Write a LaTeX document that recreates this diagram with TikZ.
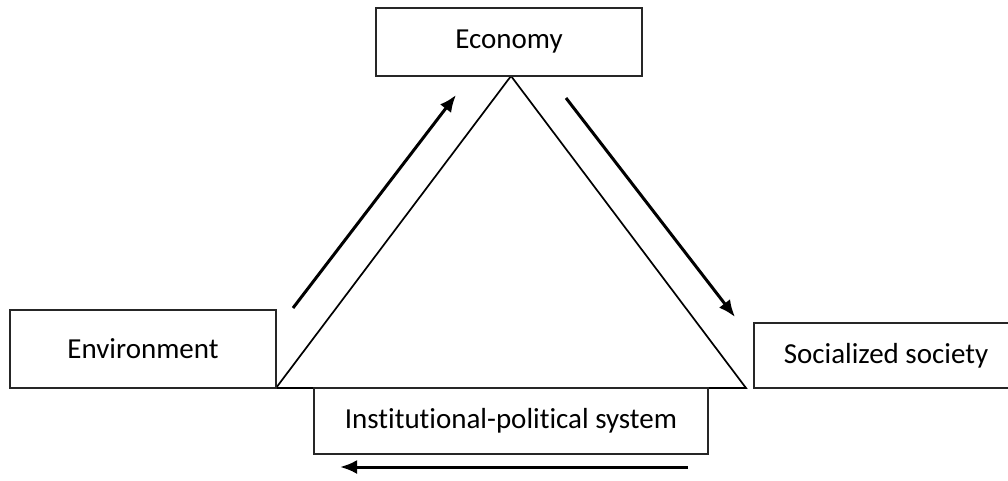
\documentclass[tikz,border=0pt]{standalone}
\usepackage{fontspec}
\setmainfont{Carlito}[Ligatures=NoCommon]
\usetikzlibrary{arrows.meta}
\begin{document}
\begin{tikzpicture}[x=1pt,y=-1pt,
  box/.style={draw=black!85,line width=1.6pt,fill=white,inner sep=0pt,font=\fontsize{29}{34}\selectfont,text=black},
  tri/.style={draw=black,line width=1.7pt,line join=miter},
  flow/.style={draw=black,line width=3pt,-{Latex[length=17pt,width=14pt]}}]
\useasboundingbox (0,0) rectangle (1008,480);
\fill[white] (0,0) rectangle (1008,480);
% triangle
\coordinate (apex) at (511,76);
\coordinate (tl) at (276,388);
\coordinate (tr) at (746,388);
\draw[tri] (tl) -- (apex) -- (tr) -- cycle;
% boxes
\node[box,minimum width=266pt,minimum height=68pt] (eco) at (509,42) {Economy};
\node[box,minimum width=266pt,minimum height=78pt] (env) at (143,349) {Environment};
\node[box,minimum width=300pt,minimum height=65pt] (soc) at (904,355.5) {Socialized society\hspace*{36pt}};
\node[box,minimum width=394pt,minimum height=66pt] (inst) at (511,421) {Institutional-political system};
% arrows
\coordinate (a1s) at (293,308);
\coordinate (a1e) at (456,95);
\coordinate (a2s) at (566,98);
\coordinate (a2e) at (735,317);
\coordinate (a3s) at (688,467);
\coordinate (a3e) at (340,467);
\draw[flow] (a1s) -- (a1e);
\draw[flow] (a2s) -- (a2e);
\draw[flow] (a3s) -- (a3e);
\end{tikzpicture}
\end{document}
